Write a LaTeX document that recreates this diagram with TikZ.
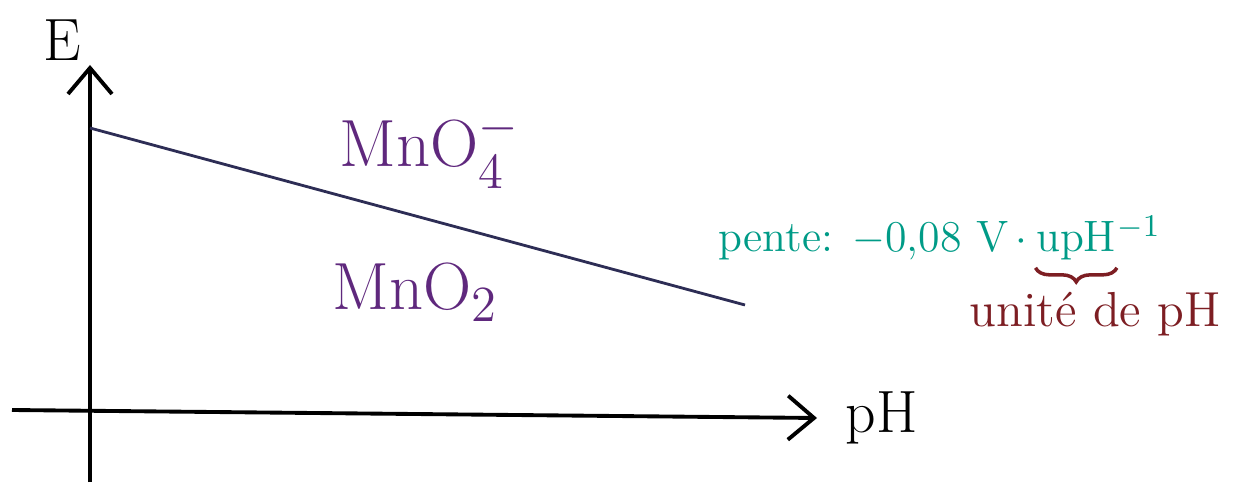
\documentclass[tikz,border=0pt]{standalone}
\usepackage{amsmath}
\usepackage{tikz}
\usepackage{xcolor}
\usetikzlibrary{arrows.meta, positioning, calc, decorations.pathreplacing}
\definecolor{cSpecies}{RGB}{95,40,125}
\definecolor{cSlope}{RGB}{0,155,135}
\definecolor{cNote}{RGB}{125,30,35}
\definecolor{cBorder}{RGB}{45,45,85}
\tikzset{
	axis/.style     ={-{Straight Barb[length=2.6mm, width=4.4mm]}, line width=1.1pt, black},
	border/.style   ={line width=0.8pt, cBorder},
	species/.style  ={font=\fontsize{19}{22}\selectfont, text=cSpecies, inner sep=0pt},
	axlabel/.style  ={font=\fontsize{17}{20}\selectfont, inner sep=0pt},
	slope/.style    ={font=\fontsize{12.5}{15}\selectfont, text=cSlope, inner sep=0pt},
	note/.style     ={font=\fontsize{14}{17}\selectfont, text=cNote, inner sep=0pt},
	unitbrace/.style={decorate, decoration={brace, mirror, amplitude=4pt}, line width=1pt, cNote},
}
\begin{document}
\begin{tikzpicture}
	\useasboundingbox (0,0) rectangle (12.36,4.82);
	% axes
	\coordinate (ybot) at (0.90,0);
	\coordinate (ytop) at (0.90,4.17);
	\coordinate (xleft) at (0.12,0.72);
	\coordinate (xright) at (8.17,0.64);
	\draw[axis] (ybot) -- (ytop);
	\draw[axis] (xleft) -- (xright);
	\node[axlabel] (E) at (0.62,4.42) {E};
	\node[axlabel, right=0.28cm of xright] (pH) {pH};
	% frontier MnO4- / MnO2
	\coordinate (fstart) at (0.90,3.54);
	\coordinate (fend) at (7.45,1.77);
	\draw[border] (fstart) -- (fend);
	\node[species] (mno4) at (4.30,3.32) {MnO$_4^-$};
	\node[species] (mno2) at (4.15,1.90) {MnO$_2$};
	% slope and its unit
	\node[slope, anchor=base west] (pente) at (7.18,2.30) {pente: $-$0,08 V\,$\cdot$\,};
	\node[slope, anchor=base west] (upH) at (pente.base east) {upH};
	\node[slope, anchor=base west] (expo) at (upH.base east) {$^{-1}$};
	\draw[unitbrace] ([yshift=-4.5pt]upH.base west) -- ([yshift=-4.5pt]upH.base east);
	\node[note] (unite) at (10.95,1.68) {unité de pH};
\end{tikzpicture}
\end{document}
